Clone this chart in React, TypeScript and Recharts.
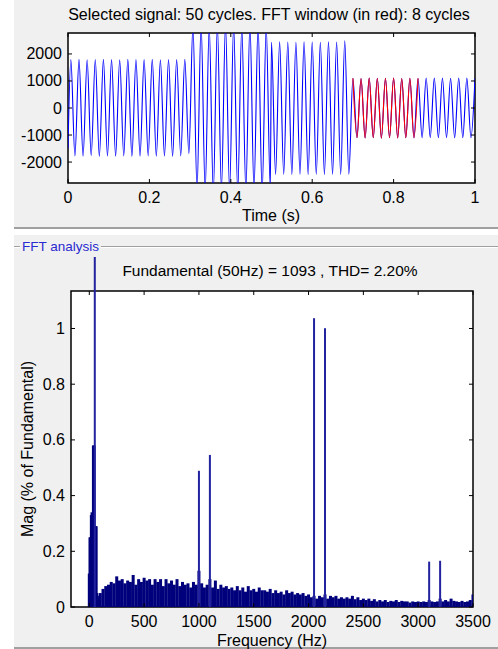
import React from 'react';
import { LineChart, Line, BarChart, Bar, XAxis, YAxis, ReferenceArea } from 'recharts';

const FONT = '"Liberation Sans", Arial, Helvetica, sans-serif';
const FS = 16;

// ---- time signal: one extreme (peak / trough) every half cycle of 50 Hz ----
const waveStartValue = -1500; // value at t = 0
const waveAStart = 0.007;
const waveA = [
  1790, -1775, 1800, -1785, 1785, -1765, 1795, -1790, 1800, -1775,
  1790, -1780, 1785, -1770, 1800, -1790, 1795, -1780, 1790, -1770,
  1800, -1785, 1785, -1775, 1795, -1790, 1790, -1770, 1800, -1690,
  3050, -3000, 3100, -3050, 3000, -3100, 3050, -3000, 3100, -3050,
  3050, -3100, 3000, -3050, 3100, -3000, 3050, -3100, 3000, -2950,
];
const waveBStart = 0.5;
const waveB = [
  2435, -2455, 2445, -2450, 2440, -2460, 2435, -2450, 2445, -2455,
  2440, -2450, 2435, -2460, 2445, -2450, 2440, -2455, 2490, -2450,
  1100, -1100, 1090, -1110, 1105, -1095, 1100, -1115, 1095, -1100,
  1105, -1110, 1090, -1100, 1100, -1105, 1095,
  -1100, 1110, -1095, 1105, -1100, 1110, -1095, 1100, -1105, 1110,
  -1100, 1105, -1095, 1100,
];
const halfCycle = 0.01;
const fftWindow = [0.7, 0.86];

const timeTicks = [0, 0.2, 0.4, 0.6, 0.8, 1];
const signalTicks = [-2000, -1000, 0, 1000, 2000];

// ---- FFT spectrum (% of fundamental) ----
const lowFreqs = [0, 6.25, 12.5, 18.75, 25, 31.25, 37.5, 43.75, 56.25, 62.5, 68.75, 75, 81.25, 87.5, 93.75];
const lowMags = [0.12, 0.25, 0.25, 0.33, 0.34, 0.33, 0.58, 0.58, 0.29, 0.29, 0.05, 0.03, 0.02, 0.03, 0.04];

const floorStart = 100;
const floorStep = 25;
const floorMags = [
  0.05, 0.065, 0.075, 0.08,
  0.09, 0.085, 0.11, 0.095,
  0.1, 0.085, 0.095, 0.09,
  0.115, 0.08, 0.1, 0.09,
  0.105, 0.095, 0.1, 0.08,
  0.1, 0.09, 0.1, 0.075,
  0.1, 0.085, 0.095, 0.08,
  0.1, 0.075, 0.09, 0.08,
  0.085, 0.07, 0.09, 0.08,
  0.13, 0.085, 0.07, 0.08,
  0.1, 0.07, 0.095, 0.065,
  0.08, 0.07, 0.075, 0.065,
  0.07, 0.06, 0.075, 0.06,
  0.07, 0.055, 0.075, 0.06,
  0.065, 0.055, 0.07, 0.06,
  0.06, 0.055, 0.065, 0.05,
  0.06, 0.05, 0.055, 0.045,
  0.06, 0.05, 0.055, 0.045,
  0.05, 0.045, 0.05, 0.04,
  0.045, 0.035, 0.04, 0.03,
  0.04, 0.035, 0.045, 0.03,
  0.04, 0.035, 0.04, 0.03,
  0.035, 0.03, 0.035, 0.03,
  0.04, 0.028, 0.035, 0.025,
  0.03, 0.025, 0.03, 0.022,
  0.028, 0.02, 0.025, 0.02,
  0.025, 0.018, 0.022, 0.02,
  0.025, 0.018, 0.022, 0.02,
  0.02, 0.016, 0.02, 0.018,
  0.02, 0.018, 0.02, 0.018,
  0.025, 0.02, 0.018, 0.02,
  0.03, 0.02, 0.025, 0.02,
  0.03, 0.022, 0.02, 0.018,
  0.022, 0.018, 0.02, 0.025,
  0.045,
];

const peakFreqs = [50, 1000, 1100, 2050, 2150, 3100, 3200];
const peakMags = [100, 0.489, 0.546, 1.037, 1.001, 0.163, 0.166];

const freqTicks = [0, 500, 1000, 1500, 2000, 2500, 3000, 3500];
const magTicks = [0, 0.2, 0.4, 0.6, 0.8, 1];

// ---- build chart rows ----
const waveRows: { t: number; v: number; red?: number }[] = [{ t: 0, v: waveStartValue }];
waveA.forEach((v, i) => waveRows.push({ t: waveAStart + i * halfCycle, v }));
waveB.forEach((v, i) => waveRows.push({ t: waveBStart + i * halfCycle, v }));
waveRows.forEach((r) => {
  if (r.t >= fftWindow[0] - 1e-6 && r.t <= fftWindow[1] + 1e-6) r.red = r.v;
});

const fftRows: { f: number; mag?: number; peak?: number }[] = [];
lowFreqs.forEach((f, i) => fftRows.push({ f, mag: lowMags[i] }));
floorMags.forEach((m, i) => fftRows.push({ f: floorStart + i * floorStep, mag: m }));
peakFreqs.forEach((f, i) => fftRows.push({ f, peak: peakMags[i] }));
fftRows.sort((a, b) => a.f - b.f);

// ---- layout (pixels) ----
const TOP = { left: 68, right: 475, top: 33, bottom: 183, h: 230 };
const BOT = { y0: 235, left: 71, right: 473, plotTop: 22, frameTop: 56, bottom: 372, h: 414 };

const fmt = (v: number) => String(v);

function yTick(left: number, right: number) {
  return (props: any) => {
    const { y, payload } = props;
    return (
      <g>
        <line x1={left} x2={left + 4} y1={y} y2={y} stroke="#000" />
        <line x1={right - 4} x2={right} y1={y} y2={y} stroke="#000" />
        <text x={left - 6} y={y} textAnchor="end" dominantBaseline="central" fontSize={FS} fontFamily={FONT} fill="#000">
          {fmt(payload.value)}
        </text>
      </g>
    );
  };
}

function xTick(top: number, bottom: number) {
  return (props: any) => {
    const { x, payload } = props;
    return (
      <g>
        <line x1={x} x2={x} y1={bottom} y2={bottom - 4} stroke="#000" />
        <line x1={x} x2={x} y1={top} y2={top + 4} stroke="#000" />
        <text x={x} y={bottom + 14} textAnchor="middle" dominantBaseline="central" fontSize={FS} fontFamily={FONT} fill="#000">
          {fmt(payload.value)}
        </text>
      </g>
    );
  };
}

// fixed-width bar drawn around the x the library computed
function barShape(w: number) {
  return (props: any) => {
    const { x, y, width, height, fill } = props;
    if (!(height > 0)) return <g />;
    const cx = x + width / 2;
    return <rect x={cx - w / 2} y={y} width={w} height={height} fill={fill} />;
  };
}

const txt: React.CSSProperties = {
  position: 'absolute',
  fontFamily: FONT,
  fontSize: FS,
  color: '#000',
  whiteSpace: 'nowrap',
  lineHeight: '18px',
  transform: 'translate(-50%, -50%)',
};

export default function App() {
  return (
    <div style={{ position: 'absolute', left: 0, top: 0, width: 498, height: 649, background: '#fff', overflow: 'hidden' }}>
      {/* top panel */}
      <div style={{ position: 'absolute', left: 14, top: 0, width: 484, height: 227, background: '#f0f0f0' }} />
      <div style={{ position: 'absolute', left: 14, top: 227, width: 484, height: 2, background: '#a0a0a0' }} />
      <div style={{ position: 'absolute', left: TOP.left, top: TOP.top, width: TOP.right - TOP.left, height: TOP.bottom - TOP.top, background: '#fff' }} />
      <div style={{ ...txt, left: 269, top: 15 }}>Selected signal: 50 cycles. FFT window (in red): 8 cycles</div>
      <div style={{ ...txt, left: 271, top: 216 }}>Time (s)</div>
      <div style={{ position: 'absolute', left: 0, top: 0 }}>
        <LineChart
          width={498}
          height={TOP.h}
          data={waveRows}
          margin={{ top: TOP.top, right: 498 - TOP.right, bottom: TOP.h - TOP.bottom - 30, left: TOP.left - 60 }}
        >
          <XAxis
            dataKey="t"
            type="number"
            domain={[0, 1]}
            allowDataOverflow
            ticks={timeTicks}
            interval={0}
            height={30}
            axisLine={false}
            tickLine={false}
            tick={xTick(TOP.top, TOP.bottom)}
          />
          <YAxis
            type="number"
            domain={[-2775, 2775]}
            allowDataOverflow
            ticks={signalTicks}
            interval={0}
            width={60}
            axisLine={false}
            tickLine={false}
            tick={yTick(TOP.left, TOP.right)}
          />
          <Line type="monotone" dataKey="v" stroke="#0000ff" strokeWidth={1.1} dot={false} isAnimationActive={false} />
          <Line type="monotone" dataKey="red" stroke="#ff0000" strokeWidth={1.1} dot={false} connectNulls={false} isAnimationActive={false} />
          <ReferenceArea x1={0} x2={1} y1={-2775} y2={2775} fill="none" stroke="#000" strokeWidth={1.5} fillOpacity={0} />
        </LineChart>
      </div>

      {/* bottom panel */}
      <div style={{ position: 'absolute', left: 14, top: BOT.y0, width: 484, height: 412, background: '#f0f0f0' }} />
      <div style={{ position: 'absolute', left: 14, top: 246, width: 484, height: 1, background: '#a0a0a0' }} />
      <div style={{ position: 'absolute', left: 14, top: 247, width: 484, height: 1, background: '#ffffff' }} />
      <div style={{ position: 'absolute', left: 14, top: 647, width: 484, height: 2, background: '#a0a0a0' }} />
      <div
        style={{
          position: 'absolute',
          left: 20,
          top: 239,
          padding: '0 2px',
          background: '#f0f0f0',
          color: '#2a2ad0',
          fontFamily: FONT,
          fontSize: 13.5,
          lineHeight: '15px',
          whiteSpace: 'nowrap',
        }}
      >
        FFT analysis
      </div>
      <div
        style={{
          position: 'absolute',
          left: BOT.left,
          top: BOT.y0 + BOT.frameTop,
          width: BOT.right - BOT.left,
          height: BOT.bottom - BOT.frameTop,
          background: '#fff',
        }}
      />
      <div style={{ ...txt, left: 270, top: 271, fontSize: 15.5 }}>Fundamental (50Hz) = 1093 , THD= 2.20%</div>
      <div style={{ ...txt, left: 272, top: 641 }}>Frequency (Hz)</div>
      <div style={{ ...txt, left: 28, top: 449, transform: 'translate(-50%, -50%) rotate(-90deg)' }}>
        Mag (% of Fundamental)
      </div>
      <div style={{ position: 'absolute', left: 0, top: BOT.y0 }}>
        <BarChart
          width={498}
          height={BOT.h}
          data={fftRows}
          margin={{ top: BOT.plotTop, right: 498 - BOT.right, bottom: BOT.h - BOT.bottom - 30, left: BOT.left - 60 }}
        >
          <XAxis
            xAxisId="f"
            dataKey="f"
            type="number"
            domain={[-167, 3500]}
            allowDataOverflow
            ticks={freqTicks}
            interval={0}
            height={30}
            axisLine={false}
            tickLine={false}
            tick={xTick(BOT.frameTop, BOT.bottom)}
          />
          <XAxis xAxisId="p" dataKey="f" type="number" domain={[-167, 3500]} allowDataOverflow hide />
          <YAxis
            type="number"
            domain={[0, 1.2567]}
            allowDataOverflow
            ticks={magTicks}
            interval={0}
            width={60}
            axisLine={false}
            tickLine={false}
            tick={yTick(BOT.left, BOT.right)}
          />
          <Bar xAxisId="f" dataKey="mag" fill="#00007c" shape={barShape(3)} isAnimationActive={false} />
          <Bar xAxisId="p" dataKey="peak" fill="#2323a0" shape={barShape(2)} isAnimationActive={false} />
          <ReferenceArea xAxisId="f" x1={-167} x2={3500} y1={0} y2={1.1347} fill="none" fillOpacity={0} stroke="#000" strokeWidth={1.5} />
        </BarChart>
      </div>
    </div>
  );
}
